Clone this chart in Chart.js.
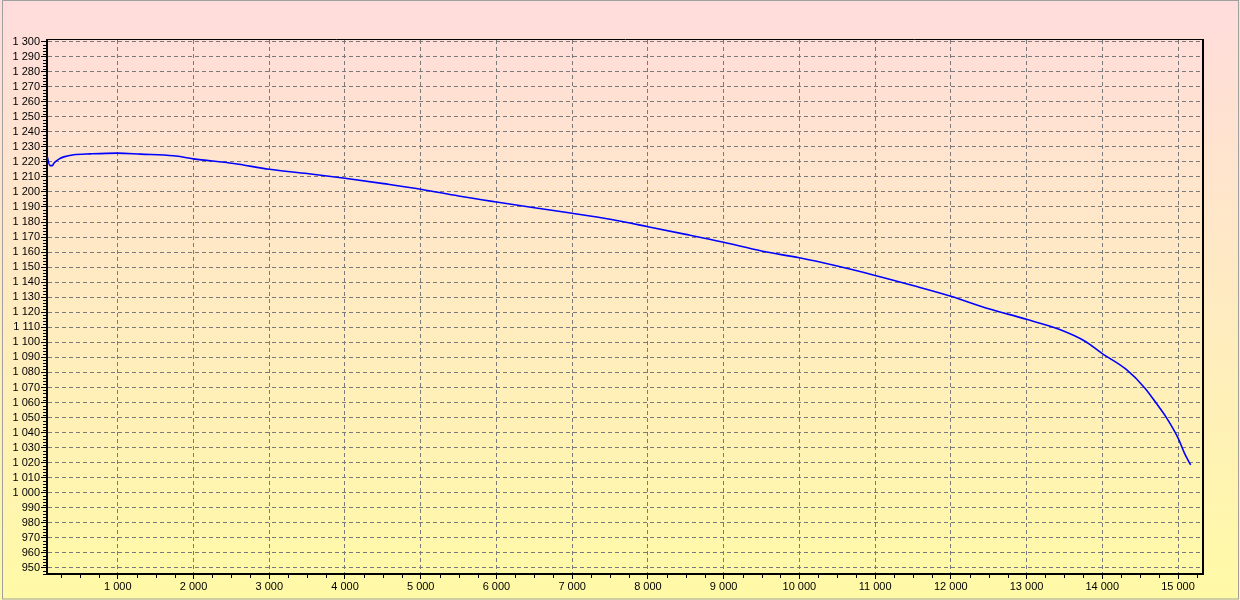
<!DOCTYPE html>
<html>
<head>
<meta charset="utf-8">
<title>Curve</title>
<script src="https://cdn.jsdelivr.net/npm/chart.js@4/dist/chart.umd.min.js"></script>
<style>
  html, body { margin: 0; padding: 0; background: #ffffff; }
  #chartBox { width: 1240px; height: 600px; }
</style>
</head>
<body>
<div id="chartBox"><canvas id="mainChart" width="1240" height="600"></canvas></div>
<script>
// values
const xValues = [65, 105, 135, 156, 222, 288, 420, 640, 992, 1300, 1735, 2000, 2530, 3000, 3500, 4000, 4510, 5000, 5500, 6000, 6500, 7000, 7500, 8000, 8500, 9000, 9500, 10000, 10500, 11000, 11500, 12000, 12500, 12636, 13000, 13421, 13772, 14000, 14320, 14561, 14716, 14847, 15000, 15088, 15167];
const yValues = [1224.0, 1217.5, 1217.5, 1219.1, 1221.8, 1223.3, 1224.7, 1225.3, 1225.8, 1225.1, 1224.0, 1222.0, 1218.9, 1215.1, 1212.2, 1209.1, 1205.5, 1201.8, 1197.3, 1193.3, 1189.5, 1185.8, 1181.8, 1176.9, 1171.8, 1166.5, 1160.7, 1156.2, 1150.7, 1144.5, 1137.8, 1130.7, 1122.3, 1120.4, 1115.3, 1108.8, 1100.7, 1092.5, 1081.8, 1069.7, 1059.3, 1050.0, 1036.5, 1026.0, 1018.5];

const xTicks = [1000, 2000, 3000, 4000, 5000, 6000, 7000, 8000, 9000, 10000, 11000, 12000, 13000, 14000, 15000];
const yTicks = [950, 960, 970, 980, 990, 1000, 1010, 1020, 1030, 1040, 1050, 1060, 1070, 1080, 1090, 1100, 1110, 1120, 1130, 1140, 1150, 1160, 1170, 1180, 1190, 1200, 1210, 1220, 1230, 1240, 1250, 1260, 1270, 1280, 1290, 1300];

const xRange = [65, 15330];
const yRange = [946, 1301];
const xMinorStep = 250;
const yMinorStep = 2;

function formatTick(value) {
  return Math.round(value).toString().replace(/\B(?=(\d{3})+(?!\d))/g, " ");
}

const framePlugin = {
  id: "frame",
  beforeDraw(chart) {
    const ctx = chart.ctx;
    const grad = ctx.createLinearGradient(0, 0, 0, chart.height);
    grad.addColorStop(0, "#ffdcdc");
    grad.addColorStop(1, "#fffaa6");
    ctx.save();
    ctx.fillStyle = grad;
    ctx.fillRect(0, 0, chart.width, chart.height);
    ctx.strokeStyle = "#a0a0a0";
    ctx.lineWidth = 1;
    ctx.strokeRect(2.5, 0.5, chart.width - 4, chart.height - 1.5);
    ctx.restore();
  },
  afterDraw(chart) {
    const { ctx, chartArea, scales } = chart;
    const xs = scales.x;
    const ys = scales.y;
    ctx.save();
    ctx.strokeStyle = "#000000";

    // top and right frame lines
    ctx.lineWidth = 1;
    ctx.beginPath();
    ctx.moveTo(chartArea.left, chartArea.top - 0.5);
    ctx.lineTo(chartArea.right + 1, chartArea.top - 0.5);
    ctx.stroke();
    ctx.lineWidth = 2;
    ctx.beginPath();
    ctx.moveTo(chartArea.right, chartArea.top - 1);
    ctx.lineTo(chartArea.right, chartArea.bottom);
    ctx.stroke();

    // minor ticks
    ctx.lineWidth = 1;
    ctx.beginPath();
    for (let v = Math.ceil(xRange[0] / xMinorStep) * xMinorStep; v <= xRange[1]; v += xMinorStep) {
      if (xTicks.includes(v)) continue;
      const px = Math.round(xs.getPixelForValue(v)) + 0.5;
      ctx.moveTo(px, chartArea.bottom + 1);
      ctx.lineTo(px, chartArea.bottom + 4);
    }
    for (let v = Math.ceil(yRange[0] / yMinorStep) * yMinorStep; v <= yRange[1]; v += yMinorStep) {
      if (yTicks.includes(v)) continue;
      const py = Math.round(ys.getPixelForValue(v)) + 0.5;
      ctx.moveTo(chartArea.left - 4, py);
      ctx.lineTo(chartArea.left - 1, py);
    }
    ctx.stroke();
    ctx.restore();
  }
};

const points = xValues.map((x, i) => ({ x: x, y: yValues[i] }));

Chart.defaults.font.family = "'Liberation Sans', Arial, sans-serif";
Chart.defaults.font.size = 11;
Chart.defaults.color = "#000000";

new Chart(document.getElementById("mainChart"), {
  type: "line",
  data: {
    datasets: [{
      data: points,
      borderColor: "#0000ff",
      borderWidth: 1.6,
      pointRadius: 0,
      cubicInterpolationMode: "monotone",
      fill: false
    }]
  },
  options: {
    responsive: false,
    animation: false,
    layout: {
      padding: { top: 40, right: 37, left: 0, bottom: 0 }
    },
    plugins: {
      legend: { display: false },
      tooltip: { enabled: false }
    },
    scales: {
      x: {
        type: "linear",
        min: xRange[0],
        max: xRange[1],
        afterBuildTicks(scale) { scale.ticks = xTicks.map(v => ({ value: v })); },
        afterFit(scale) { scale.height = 26; },
        border: { display: true, color: "#000000", width: 2, dash: [4, 3] },
        grid: {
          color: "#7a7a7a",
          lineWidth: 1,
          tickLength: 5,
          tickColor: "#000000",
          tickBorderDash: []
        },
        ticks: {
          autoSkip: false,
          maxRotation: 0,
          padding: 1,
          callback: value => formatTick(value)
        }
      },
      y: {
        type: "linear",
        min: yRange[0],
        max: yRange[1],
        afterBuildTicks(scale) { scale.ticks = yTicks.map(v => ({ value: v })); },
        afterFit(scale) { scale.width = 47; },
        border: { display: true, color: "#000000", width: 2, dash: [4, 3] },
        grid: {
          color: "#7a7a7a",
          lineWidth: 1,
          tickLength: 6,
          tickColor: "#000000",
          tickBorderDash: []
        },
        ticks: {
          autoSkip: false,
          padding: 1,
          callback: value => formatTick(value)
        }
      }
    }
  },
  plugins: [framePlugin]
});
</script>
</body>
</html>
